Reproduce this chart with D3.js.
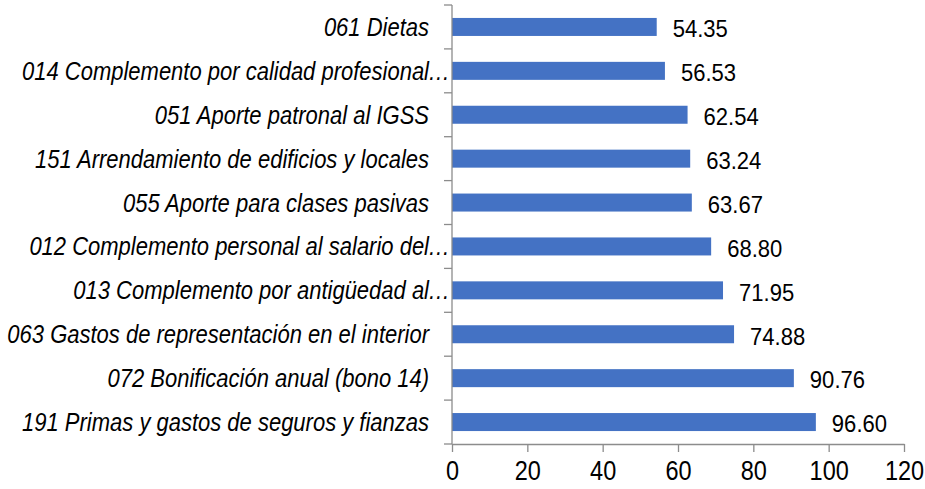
<!DOCTYPE html>
<html>
<head>
<meta charset="utf-8">
<script src="https://cdn.jsdelivr.net/npm/d3@7"></script>
<style>
  body { margin: 0; background: #fff; }
  svg { display: block; }
</style>
</head>
<body>
<div id="chart"></div>
<script>
// renglones de gasto (de arriba hacia abajo)
const categories = [
  "061 Dietas",
  "014 Complemento por calidad profesional…",
  "051 Aporte patronal al IGSS",
  "151 Arrendamiento de edificios y locales",
  "055 Aporte para clases pasivas",
  "012 Complemento personal al salario del…",
  "013 Complemento por antigüedad al…",
  "063 Gastos de representación en el interior",
  "072 Bonificación anual (bono 14)",
  "191 Primas y gastos de seguros y fianzas"
];
const values = [54.35, 56.53, 62.54, 63.24, 63.67, 68.80, 71.95, 74.88, 90.76, 96.60];
const xTicks = [0, 20, 40, 60, 80, 100, 120];

const width = 925, height = 489;
const margin = { top: 5, right: 21, bottom: 45, left: 452 };
// fuente tipo "narrow": Liberation Sans comprimida horizontalmente
const font = "'Liberation Sans', Arial, sans-serif";
const sxLabel = 0.88, sxValue = 0.9, sxTick = 0.84;
const axisColor = "#8c8c8c";

const svg = d3.select("#chart").append("svg")
    .attr("width", width)
    .attr("height", height);

const x = d3.scaleLinear()
    .domain([0, 120])
    .range([margin.left, width - margin.right]);

const y = d3.scaleBand()
    .domain(categories)
    .range([margin.top, height - margin.bottom])
    .paddingInner(0.59)
    .paddingOuter(0.295);

const data = categories.map((c, i) => ({ name: c, value: values[i] }));

// barras
svg.append("g")
  .selectAll("rect")
  .data(data)
  .join("rect")
    .attr("x", x(0))
    .attr("y", d => y(d.name))
    .attr("width", d => x(d.value) - x(0))
    .attr("height", y.bandwidth())
    .attr("fill", "#4472c4");

// eje vertical con marcas entre categorias
const yAxis = svg.append("g");
yAxis.append("line")
    .attr("x1", x(0)).attr("x2", x(0))
    .attr("y1", margin.top).attr("y2", height - margin.bottom)
    .attr("stroke", axisColor).attr("stroke-width", 1.3);
const step = y.step();
yAxis.selectAll("line.tk")
  .data(d3.range(categories.length + 1))
  .join("line")
    .attr("class", "tk")
    .attr("x1", x(0) - 8).attr("x2", x(0))
    .attr("y1", i => margin.top + i * step)
    .attr("y2", i => margin.top + i * step)
    .attr("stroke", axisColor).attr("stroke-width", 1.3);

// etiquetas de categoria (cursiva)
const labels = svg.append("g")
    .style("font-family", font)
    .style("font-style", "italic")
    .style("font-size", "25px")
    .attr("fill", "#000");
labels.selectAll("text.cat")
  .data(data)
  .join("text")
    .attr("class", "cat")
    .attr("transform", d => `translate(${x(0) - 23},${y(d.name) + y.bandwidth() / 2}) scale(${sxLabel},1)`)
    .attr("dy", "0.36em")
    .attr("text-anchor", "end")
    .text(d => d.name.replace("…", ""));
labels.selectAll("text.ell")
  .data(data.filter(d => d.name.endsWith("…")))
  .join("text")
    .attr("class", "ell")
    .attr("transform", d => `translate(${x(0) - 24},${y(d.name) + y.bandwidth() / 2}) scale(${sxLabel},1)`)
    .attr("dy", "0.36em")
    .text("…");

// valores
svg.append("g")
    .style("font-family", font)
    .style("font-size", "24.5px")
  .selectAll("text")
  .data(data)
  .join("text")
    .attr("transform", d => `translate(${x(d.value) + 16},${y(d.name) + y.bandwidth() / 2}) scale(${sxValue},1)`)
    .attr("dy", "0.42em")
    .text(d => d.value.toFixed(2));

// eje horizontal
const xAxis = svg.append("g")
    .attr("transform", `translate(0,${height - margin.bottom})`)
    .call(d3.axisBottom(x).tickValues(xTicks).tickSize(8).tickSizeOuter(0).tickPadding(8));
xAxis.select(".domain").attr("stroke", axisColor).attr("stroke-width", 1.3);
xAxis.selectAll(".tick line").attr("stroke", axisColor).attr("stroke-width", 1.3);
xAxis.selectAll(".tick text")
    .attr("fill", "#000")
    .attr("transform", `scale(${sxTick},1)`)
    .style("font-family", font)
    .style("font-size", "28px");
</script>
</body>
</html>
